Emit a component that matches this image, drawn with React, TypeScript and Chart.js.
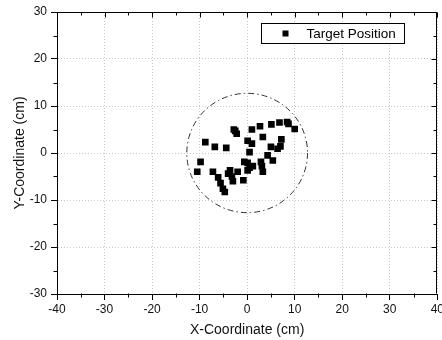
import React, { useEffect, useRef } from "react";
import { Chart, registerables } from "chart.js";

Chart.register(...registerables);

const xPositions = [
  -8.8, -6.8, -4.4, -2.8, -2.2, -2.5, 1.0, 2.7, 5.1, 6.8, 8.4, 8.7, 10.0, 3.3,
  7.2, 0.1, 1.0, 5.0, 6.4, 7.0, 0.5, 4.3, 5.4, 2.9, -9.8, -10.5, -7.2, -6.1,
  -5.6, -5.1, -4.7, -3.6, -4.0, -3.2, -3.0, -2.0, -0.8, -0.6, 0.1, 0.5, 0.1,
  1.2, 3.1, 3.3,
];
const yPositions = [
  2.3, 1.3, 1.1, 5.0, 4.1, 4.7, 5.0, 5.7, 6.1, 6.5, 6.6, 6.2, 5.1, 3.4, 2.9,
  2.6, 2.0, 1.3, 0.9, 1.4, 0.2, -0.5, -1.6, -1.9, -1.9, -4.0, -4.0, -5.2, -6.4,
  -7.6, -8.3, -3.7, -4.4, -5.0, -6.0, -4.0, -5.8, -1.9, -2.1, -3.1, -3.7, -2.8,
  -2.8, -4.0,
];
const xRange = [-40, 40];
const yRange = [-30, 30];
const majorStep = 10;
const minorStep = 5;
const circleCenter = [0, 0];
const circleRadius = 12.7;
const seriesLabel = "Target Position";
const xTitle = "X-Coordinate (cm)";
const yTitle = "Y-Coordinate (cm)";

const FONT = '"Liberation Sans", Arial, sans-serif';

const framePlugin = {
  id: "frame",
  beforeDatasetsDraw(chart: any) {
    const { ctx, chartArea, scales } = chart;
    const xs = scales.x;
    const ys = scales.y;
    ctx.save();
    ctx.beginPath();
    ctx.rect(chartArea.left, chartArea.top, chartArea.right - chartArea.left, chartArea.bottom - chartArea.top);
    ctx.clip();
    const cx = xs.getPixelForValue(circleCenter[0]);
    const cy = ys.getPixelForValue(circleCenter[1]);
    const rx = Math.abs(xs.getPixelForValue(circleCenter[0] + circleRadius) - cx);
    const ry = Math.abs(ys.getPixelForValue(circleCenter[1] + circleRadius) - cy);
    ctx.beginPath();
    ctx.ellipse(cx, cy, rx, ry, 0, 0, Math.PI * 2);
    ctx.strokeStyle = "#333";
    ctx.lineWidth = 1;
    ctx.setLineDash([6, 3, 1.5, 3]);
    ctx.stroke();
    ctx.restore();
  },
  afterDraw(chart: any) {
    const { ctx, chartArea, scales } = chart;
    const xs = scales.x;
    const ys = scales.y;
    const L = Math.round(chartArea.left) + 0.5;
    const R = Math.round(chartArea.right) - 0.5;
    const T = Math.round(chartArea.top) + 0.5;
    const B = Math.round(chartArea.bottom) - 0.5;
    ctx.save();
    ctx.strokeStyle = "#000";
    ctx.lineWidth = 1;
    ctx.setLineDash([]);
    ctx.beginPath();
    ctx.moveTo(L, T);
    ctx.lineTo(R, T);
    ctx.lineTo(R, B);
    for (let v = xRange[0]; v <= xRange[1]; v += minorStep) {
      const px = Math.round(xs.getPixelForValue(v)) + 0.5;
      const major = v % majorStep === 0;
      if (!major) {
        ctx.moveTo(px, B);
        ctx.lineTo(px, B + 4);
      }
      ctx.moveTo(px, T);
      ctx.lineTo(px, T + (major ? 5 : 3));
    }
    for (let v = yRange[0]; v <= yRange[1]; v += minorStep) {
      const py = Math.round(ys.getPixelForValue(v)) + 0.5;
      const major = v % majorStep === 0;
      if (!major) {
        ctx.moveTo(L, py);
        ctx.lineTo(L - 4, py);
      }
      ctx.moveTo(R, py);
      ctx.lineTo(R - (major ? 5 : 3), py);
    }
    ctx.stroke();

    const bx = Math.round(chartArea.right) - 176 + 0.5;
    const by = Math.round(chartArea.top) + 11 + 0.5;
    const bw = 143;
    const bh = 20;
    ctx.fillStyle = "#fff";
    ctx.fillRect(bx, by, bw, bh);
    ctx.strokeRect(bx, by, bw, bh);
    ctx.fillStyle = "#000";
    ctx.fillRect(bx + 21, by + 7, 6, 6);
    ctx.font = `13.5px ${FONT}`;
    ctx.textBaseline = "middle";
    ctx.textAlign = "left";
    ctx.fillText(seriesLabel, bx + 45, by + bh / 2 + 0.5);
    ctx.restore();
  },
};

export default function App() {
  const canvasRef = useRef<HTMLCanvasElement | null>(null);

  useEffect(() => {
    if (!canvasRef.current) return;
    const data = xPositions.map((x, i) => ({ x, y: yPositions[i] }));
    const chart = new Chart(canvasRef.current, {
      type: "scatter",
      data: {
        datasets: [
          {
            label: seriesLabel,
            data,
            pointStyle: "rect",
            pointRadius: 4.7,
            pointHoverRadius: 4.7,
            backgroundColor: "#000",
            borderColor: "#000",
            borderWidth: 0,
          },
        ],
      },
      options: {
        animation: false,
        responsive: false,
        maintainAspectRatio: false,
        events: [],
        layout: { padding: { top: 12, right: 2, left: 0, bottom: 0 } },
        plugins: {
          legend: { display: false },
          tooltip: { enabled: false },
        },
        scales: {
          x: {
            type: "linear",
            min: xRange[0],
            max: xRange[1],
            afterFit: (s: any) => {
              s.height = 46;
              s.paddingLeft = 0;
              s.paddingRight = 0;
            },
            ticks: {
              stepSize: majorStep,
              color: "#111",
              font: { family: FONT, size: 12 },
              padding: 2,
              maxRotation: 0,
            },
            grid: {
              color: "#c8c8c8",
              lineWidth: 1,
              tickColor: "#000",
              tickLength: 6,
              tickWidth: 1,
            },
            border: { display: true, color: "#000", width: 1, dash: [1, 2] },
            title: {
              display: true,
              text: xTitle,
              color: "#111",
              font: { family: FONT, size: 14 },
              padding: { top: 0, bottom: 1 },
            },
          },
          y: {
            type: "linear",
            min: yRange[0],
            max: yRange[1],
            afterFit: (s: any) => {
              s.width = 57;
              s.paddingTop = 0;
              s.paddingBottom = 0;
            },
            ticks: {
              stepSize: majorStep,
              color: "#111",
              font: { family: FONT, size: 12 },
              padding: 4,
            },
            grid: {
              color: "#c8c8c8",
              lineWidth: 1,
              tickColor: "#000",
              tickLength: 6,
              tickWidth: 1,
            },
            border: { display: true, color: "#000", width: 1, dash: [1, 2] },
            title: {
              display: true,
              text: yTitle,
              color: "#111",
              font: { family: FONT, size: 14 },
              padding: { top: 12, bottom: 0 },
            },
          },
        },
      },
      plugins: [framePlugin],
    });
    return () => chart.destroy();
  }, []);

  return (
    <div style={{ position: "absolute", left: 0, top: 0, width: 442, height: 340, background: "#fff" }}>
      <canvas ref={canvasRef} width={442} height={340} style={{ display: "block", width: 442, height: 340 }} />
    </div>
  );
}
